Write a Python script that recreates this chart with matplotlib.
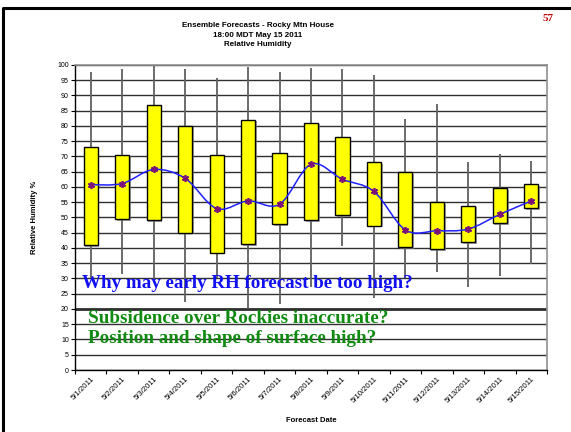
import numpy as np
import matplotlib.pyplot as plt
from matplotlib.path import Path
from matplotlib.patches import PathPatch
import matplotlib.patheffects as pe

# ensemble RH spread for each forecast day
dates = ['5/1/2011', '5/2/2011', '5/3/2011', '5/4/2011', '5/5/2011', '5/6/2011',
         '5/7/2011', '5/8/2011', '5/9/2011', '5/10/2011', '5/11/2011', '5/12/2011',
         '5/13/2011', '5/14/2011', '5/15/2011']
rh_max = [97.8, 98.6, 100.0, 98.6, 95.6, 99.4, 97.8, 98.9, 98.6, 96.7, 82.2, 87.1, 68.1, 70.8, 68.6]
rh_min = [30.1, 31.4, 29.5, 22.4, 30.0, 19.9, 21.5, 27.3, 40.7, 23.5, 30.1, 32.2, 27.3, 30.8, 34.7]
box_top = [73.2, 70.6, 86.7, 80.1, 70.6, 82.0, 71.2, 81.0, 76.2, 68.1, 64.8, 55.0, 53.9, 59.6, 60.9]
box_bot = [40.9, 49.4, 49.1, 45.0, 38.5, 41.3, 47.8, 49.1, 50.8, 47.3, 40.2, 39.7, 41.9, 48.1, 53.0]
rh_mean = [60.7, 61.1, 65.7, 62.8, 52.9, 55.4, 54.3, 67.4, 62.5, 58.5, 45.9, 45.6, 46.2, 51.0, 55.4]

plt.rcParams['font.family'] = 'Liberation Sans'

fig = plt.figure(figsize=(5.71, 4.32), dpi=100)
ax = fig.add_axes([0.1313, 0.1435, 0.8267, 0.7065])

x = np.arange(len(dates))

# whiskers then boxes
ax.vlines(x, rh_min, rh_max, color='#606060', lw=1.3, zorder=2)
heights = np.array(box_top) - np.array(box_bot)
ax.bar(x, heights, bottom=box_bot, width=0.45, color='#ffff00', edgecolor='black', lw=1.0, zorder=3,
       path_effects=[pe.SimplePatchShadow(offset=(1.2, -1.2), shadow_rgbFace='#808080', alpha=0.7), pe.Normal()])

# smoothed mean line (bezier through the means)
pts = np.column_stack([x, rh_mean]).astype(float)
verts = [pts[0]]
codes = [Path.MOVETO]
for i in range(len(pts) - 1):
    p0 = pts[i - 1] if i > 0 else pts[i]
    p3 = pts[i + 2] if i + 2 < len(pts) else pts[i + 1]
    c1 = pts[i] + (pts[i + 1] - p0) / 6
    c2 = pts[i + 1] - (p3 - pts[i]) / 6
    verts += [c1, c2, pts[i + 1]]
    codes += [Path.CURVE4] * 3
ax.add_patch(PathPatch(Path(verts, codes), fc='none', ec='#2020ff', lw=1.1, zorder=4))
ax.plot(x, rh_mean, ls='none', marker=(6, 2, 0), ms=5, mew=1.2, color='#7a107a', zorder=5)

ax.set_xlim(-0.5, len(dates) - 0.5)
ax.set_ylim(0, 100)
ax.set_yticks(np.arange(0, 101, 5))
ax.tick_params(axis='y', labelsize=5, length=3, width=0.8, pad=1.5)
ax.set_xticks(x)
ax.set_xticklabels(dates, rotation=45, ha='right', rotation_mode='anchor', fontsize=5.6)
ax.set_xticks(np.arange(-0.5, len(dates)), minor=True)
ax.tick_params(axis='x', which='major', length=0, pad=4)
ax.tick_params(axis='x', which='minor', length=3, width=0.8)

ax.grid(axis='y', color='#303030', lw=1.0, zorder=1)
ax.set_axisbelow(True)
ax.axhline(20, color='#303030', lw=2.0, zorder=1)
for s in ['top', 'right']:
    ax.spines[s].set_color('#909090')
    ax.spines[s].set_linewidth(1.2)
for s in ['left', 'bottom']:
    ax.spines[s].set_color('black')
    ax.spines[s].set_linewidth(1.0)

ax.set_ylabel('Relative Humidity %', fontsize=5.5, fontweight='bold', labelpad=14)
ax.set_xlabel('Forecast Date', fontsize=5.5, fontweight='bold', labelpad=2)
ax.xaxis.set_label_coords(0.5, -0.155)

fig.text(0.452, 0.948, 'Ensemble Forecasts - Rocky Mtn House\n18:00 MDT May 15 2011\nRelative Humidity',
         ha='center', va='top', fontsize=5.8, fontweight='bold', linespacing=1.45)
fig.text(0.96, 0.958, '57', color='#cc0000', fontsize=8, fontweight='bold', family='Liberation Serif',
         ha='center', va='center')

# notes written over the plot
ax.text(-0.28, 28.5, 'Why may early RH forecast be too high?', color='#1010f0', fontsize=13.7,
        fontweight='bold', family='Liberation Serif', va='center', zorder=6)
ax.text(-0.09, 17.0, 'Subsidence over Rockies inaccurate?', color='#108a10', fontsize=13.8,
        fontweight='bold', family='Liberation Serif', va='center', zorder=6)
ax.text(-0.09, 10.2, 'Position and shape of surface high?', color='#108a10', fontsize=13.8,
        fontweight='bold', family='Liberation Serif', va='center', zorder=6)

# outer frame
fig.add_artist(plt.Line2D([0.006, 0.006, 1.0], [0.0, 0.982, 0.982], transform=fig.transFigure,
                          color='black', lw=2.2))

fig.savefig('out.png', dpi=100)
